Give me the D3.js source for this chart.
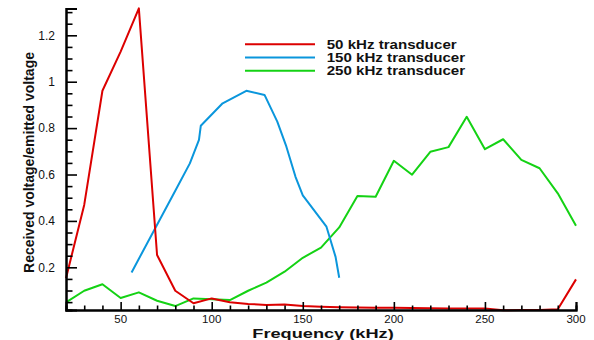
<!DOCTYPE html>
<html>
<head>
<meta charset="utf-8">
<script src="https://cdn.jsdelivr.net/npm/d3@7"></script>
<style>
    body { margin: 0; background: #fff; }
    text { font-family: "Liberation Sans", Arial, Helvetica, sans-serif; fill: #111; }
</style>
</head>
<body>
<div id="chart"></div>
<script>
// values
const freq10 = [20, 30, 40, 50, 60, 70, 80, 90, 100, 110, 120, 130, 140, 150, 160, 170, 180, 190, 200, 210, 220, 230, 240, 250, 260, 270, 280, 290, 300];
const red50 = [0.153, 0.469, 0.961, 1.13, 1.316, 0.253, 0.099, 0.045, 0.066, 0.049, 0.042, 0.038, 0.040, 0.033, 0.030, 0.028, 0.027, 0.026, 0.026, 0.025, 0.024, 0.023, 0.022, 0.023, 0.015, 0.016, 0.016, 0.019, 0.148];
const green250 = [0.049, 0.099, 0.127, 0.068, 0.092, 0.056, 0.033, 0.066, 0.062, 0.059, 0.099, 0.134, 0.181, 0.241, 0.285, 0.372, 0.507, 0.504, 0.659, 0.599, 0.698, 0.718, 0.849, 0.709, 0.752, 0.663, 0.627, 0.519, 0.379];
const blueFreq = [56, 80, 88, 93, 94, 106, 119, 129, 136, 141, 146, 150, 163, 168, 170];
const blue150 = [0.178, 0.53, 0.648, 0.749, 0.81, 0.907, 0.961, 0.943, 0.828, 0.72, 0.59, 0.51, 0.375, 0.245, 0.155];

const seriesNames = ["50 kHz transducer", "150 kHz transducer", "250 kHz transducer"];
const seriesColors = ["#dc0000", "#0a96dc", "#14d214"];

const xMajor = [50, 100, 150, 200, 250, 300];
const xMinor = [30, 40, 60, 70, 80, 90, 110, 120, 130, 140, 160, 170, 180, 190, 210, 220, 230, 240, 260, 270, 280, 290];
const yMajor = [0.2, 0.4, 0.6, 0.8, 1.0, 1.2];
const yMinor = [0.05, 0.1, 0.15, 0.25, 0.3, 0.35, 0.45, 0.5, 0.55, 0.65, 0.7, 0.75, 0.85, 0.9, 0.95, 1.05, 1.1, 1.15, 1.25, 1.3];

const drawChart = function(){
    const width = 594, height = 340;
    const left = 66, right = 576, top = 8.4, bottom = 310;

    const svg = d3.select("#chart")
        .append("svg")
        .attr("width", width)
        .attr("height", height);

    const x = d3.scaleLinear().domain([20, 300]).range([left, right]);
    const y = d3.scaleLinear().domain([0.016, 1.316]).range([bottom, top]);

    const series = [
        { name: seriesNames[0], color: seriesColors[0], pts: freq10.map((f, i) => [f, red50[i]]) },
        { name: seriesNames[1], color: seriesColors[1], pts: blueFreq.map((f, i) => [f, blue150[i]]) },
        { name: seriesNames[2], color: seriesColors[2], pts: freq10.map((f, i) => [f, green250[i]]) }
    ];

    const line = d3.line().x(d => x(d[0])).y(d => y(d[1]));

    // draw green, blue, red so red sits on top like the reference
    svg.append("g")
        .selectAll("path")
        .data([series[2], series[1], series[0]])
        .enter()
        .append("path")
        .attr("d", d => line(d.pts))
        .attr("fill", "none")
        .attr("stroke", d => d.color)
        .attr("stroke-width", 2)
        .attr("stroke-linejoin", "round");

    // x axis, ticks pointing inward
    const xAxis = svg.append("g").attr("transform", `translate(0,${bottom})`);
    xAxis.call(d3.axisTop(x).tickValues(xMinor).tickSize(4.5).tickFormat(""));
    xAxis.call(g => g.append("g").call(d3.axisTop(x).tickValues(xMajor).tickSize(8).tickFormat("")));
    xAxis.selectAll(".domain").attr("stroke", "#000").attr("stroke-width", 2);
    xAxis.selectAll(".tick line").attr("stroke", "#000").attr("stroke-width", 1.6);

    svg.append("g")
        .selectAll("text")
        .data(xMajor)
        .enter()
        .append("text")
        .attr("x", d => x(d))
        .attr("y", 322.8)
        .attr("text-anchor", "middle")
        .style("font-size", "11.5px")
        .text(d => d);

    // y axis, ticks pointing inward
    const yAxis = svg.append("g").attr("transform", `translate(${left},0)`);
    yAxis.call(d3.axisRight(y).tickValues(yMinor).tickSize(6.5).tickFormat(""));
    yAxis.call(g => g.append("g").call(d3.axisRight(y).tickValues(yMajor).tickSize(11).tickFormat("")));
    yAxis.selectAll(".domain").attr("stroke", "#000").attr("stroke-width", 2);
    yAxis.selectAll(".tick line").attr("stroke", "#000").attr("stroke-width", 1.6);

    svg.append("g")
        .selectAll("text")
        .data(yMajor)
        .enter()
        .append("text")
        .attr("x", 55)
        .attr("y", d => y(d) + 4.3)
        .attr("text-anchor", "end")
        .style("font-size", "12px")
        .text(d => String(+d.toFixed(1)));

    // axis titles
    svg.append("text")
        .attr("transform", "translate(323,338.3) scale(1.4,1)")
        .attr("text-anchor", "middle")
        .style("font-size", "13px")
        .style("font-weight", "bold")
        .text("Frequency (kHz)");

    svg.append("text")
        .attr("transform", "translate(33.5,162.5) rotate(-90)")
        .attr("text-anchor", "middle")
        .style("font-size", "14px")
        .style("font-weight", "bold")
        .text("Received voltage/emitted voltage");

    // legend
    const legend = svg.append("g")
        .selectAll("g")
        .data(series)
        .enter()
        .append("g")
        .attr("transform", (d, i) => `translate(245,${44.3 + i * 13.2})`);

    legend.append("line")
        .attr("x1", 0).attr("x2", 70)
        .attr("y1", 0).attr("y2", 0)
        .attr("stroke", d => d.color)
        .attr("stroke-width", 2);

    legend.append("text")
        .attr("transform", "translate(81.7,4.2) scale(1.26,1)")
        .style("font-size", "12px")
        .style("font-weight", "bold")
        .text(d => d.name);
}

window.onload = function(){
    drawChart();
}
</script>
</body>
</html>
